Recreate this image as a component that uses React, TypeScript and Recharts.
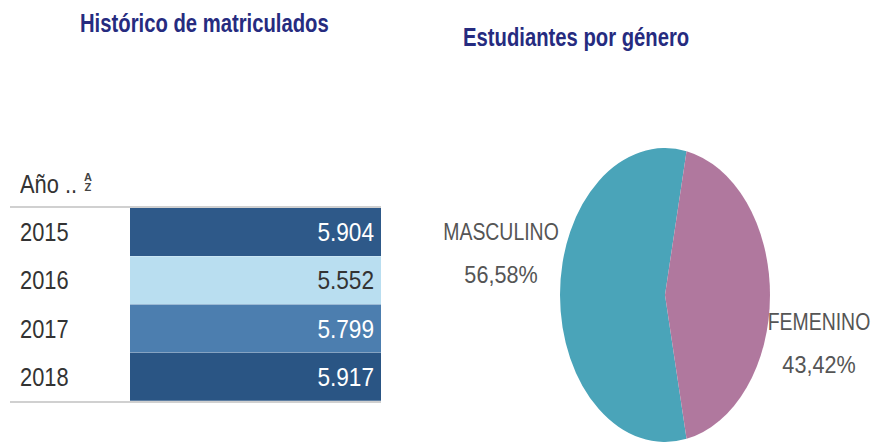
import React from 'react';
import { BarChart, Bar, XAxis, YAxis, Cell, LabelList, PieChart, Pie } from 'recharts';

// tabla "Histórico de matriculados"
const YEARS = ['2015', '2016', '2017', '2018'];
const ENROLLED = [5904, 5552, 5799, 5917];

// torta "Estudiantes por género"
const GENDERS = ['MASCULINO', 'FEMENINO'];
const GENDER_PCT = [56.58, 43.42];
const GENDER_COLORS = ['#4aa4b9', '#b0789e'];

// escala de color min -> medio -> max
const LIGHT = [185, 222, 240];
const MID = [94, 148, 198];
const DARK = [42, 85, 132];
const FONT = '"Liberation Sans", Arial, sans-serif';
const SQUEEZE = 0.84; // el original usa una fuente condensada
const TITLE_COLOR = '#262b7f';
const RAD = Math.PI / 180;
const Y_STRETCH = 1.4; // la torta se ve ovalada

const minV = Math.min(...ENROLLED);
const maxV = Math.max(...ENROLLED);
const shade = (v: number) => (v - minV) / (maxV - minV);
const mix = (a: number[], b: number[], t: number) => a.map((x, i) => Math.round(x + (b[i] - x) * t));
const colorFor = (v: number) => {
  const t = shade(v);
  const c = t < 0.5 ? mix(LIGHT, MID, t * 2) : mix(MID, DARK, (t - 0.5) * 2);
  return `rgb(${c[0]},${c[1]},${c[2]})`;
};
const fmt = (v: number) => `${Math.floor(v / 1000)}.${String(v % 1000).padStart(3, '0')}`;

const tableData = YEARS.map((year, i) => ({ year, value: ENROLLED[i] }));
const pieData = GENDERS.map((name, i) => ({ name, value: GENDER_PCT[i] }));
const pieTotal = GENDER_PCT.reduce((a, b) => a + b, 0);
const pieStart = 180 - (GENDER_PCT[0] / pieTotal) * 180;

// texto comprimido horizontalmente
const Narrow = ({ x, y, anchor = 'start', sx = SQUEEZE, children, ...rest }: any) => (
  <text transform={`translate(${x},${y}) scale(${sx},1)`} textAnchor={anchor} {...rest}>
    {children}
  </text>
);

const YearTick = (props: any) => {
  const { y, payload } = props;
  return (
    <Narrow x={20} y={y + 9} fill="#333" fontFamily={FONT} fontSize={26}>
      {payload.value}
    </Narrow>
  );
};

const ValueLabel = (props: any) => {
  const { x, y, width, height, value } = props;
  const light = shade(value) < 0.3;
  return (
    <Narrow
      x={x + width - 7}
      y={y + height / 2 + 9}
      anchor="end"
      sx={0.87}
      fill={light ? '#333' : '#fff'}
      fontFamily={FONT}
      fontSize={26}
    >
      {fmt(value)}
    </Narrow>
  );
};

// sector elíptico
const OvalSector = (props: any) => {
  const { cx, cy, outerRadius, startAngle, endAngle, fill } = props;
  const rx = outerRadius;
  const ry = outerRadius * Y_STRETCH;
  const p = (a: number) => [cx + rx * Math.cos(a * RAD), cy - ry * Math.sin(a * RAD)];
  const [x1, y1] = p(startAngle);
  const [x2, y2] = p(endAngle);
  const large = Math.abs(endAngle - startAngle) > 180 ? 1 : 0;
  const sweep = startAngle > endAngle ? 1 : 0;
  return (
    <path
      d={`M${cx},${cy}L${x1},${y1}A${rx},${ry},0,${large},${sweep},${x2},${y2}Z`}
      fill={fill}
      stroke="none"
    />
  );
};

const PieLabel = (props: any) => {
  const { cx, cy, midAngle, outerRadius, name, percent } = props;
  const cos = Math.cos(midAngle * RAD);
  const side = cos >= 0 ? 1 : -1;
  const x = cx + cos * (outerRadius + 54) - 5;
  const mid = cy + side * 45 + 3;
  const pct = `${(percent * 100).toFixed(2).replace('.', ',')}%`;
  return (
    <g fontFamily={FONT} fontSize={24} fill="#555">
      <Narrow x={x} y={mid - 13} anchor="middle" sx={0.81}>{name}</Narrow>
      <Narrow x={x} y={mid + 30} anchor="middle" sx={0.9}>{pct}</Narrow>
    </g>
  );
};

const titleStyle: React.CSSProperties = {
  position: 'absolute',
  fontFamily: FONT,
  fontWeight: 'bold',
  fontSize: 25,
  color: TITLE_COLOR,
  whiteSpace: 'nowrap',
  lineHeight: 1,
  transform: `scaleX(0.81)`,
  transformOrigin: 'left top',
};

const App: React.FC = () => {
  return (
    <div
      style={{
        position: 'absolute',
        left: 0,
        top: 0,
        width: 876,
        height: 443,
        overflow: 'hidden',
        background: '#fff',
      }}
    >
      <div style={{ ...titleStyle, left: 80, top: 11 }}>Histórico de matriculados</div>
      <div style={{ ...titleStyle, left: 463, top: 25 }}>Estudiantes por género</div>

      {/* encabezado de la tabla */}
      <div
        style={{
          position: 'absolute',
          left: 20,
          top: 171,
          fontFamily: FONT,
          fontSize: 26,
          color: '#333',
          lineHeight: 1,
          whiteSpace: 'nowrap',
          transform: `scaleX(${SQUEEZE})`,
          transformOrigin: 'left top',
        }}
      >
        Año ..
      </div>
      <div
        style={{
          position: 'absolute',
          left: 84,
          top: 172,
          fontFamily: FONT,
          fontSize: 11,
          fontWeight: 'bold',
          color: '#444',
          lineHeight: '10px',
          textAlign: 'center',
        }}
      >
        A<br />Z
      </div>
      <div style={{ position: 'absolute', left: 10, top: 206, width: 371, height: 2, background: '#d0d0d0' }} />
      <div style={{ position: 'absolute', left: 10, top: 401, width: 371, height: 2, background: '#d0d0d0' }} />

      <div style={{ position: 'absolute', left: 0, top: 208 }}>
        <BarChart
          width={381}
          height={193}
          data={tableData}
          layout="vertical"
          barCategoryGap={0}
          margin={{ top: 0, right: 0, bottom: 0, left: 0 }}
        >
          <XAxis type="number" hide domain={[0, 1]} />
          <YAxis
            type="category"
            dataKey="year"
            width={130}
            axisLine={false}
            tickLine={false}
            tick={<YearTick />}
          />
          <Bar dataKey={() => 1} isAnimationActive={false}>
            {tableData.map((d, i) => (
              <Cell key={`c-${i}`} fill={colorFor(d.value)} />
            ))}
            <LabelList dataKey="value" content={<ValueLabel />} />
          </Bar>
        </BarChart>
      </div>

      <div style={{ position: 'absolute', left: 430, top: 125 }}>
        <PieChart width={446} height={340} margin={{ top: 0, right: 0, bottom: 0, left: 0 }}>
          <Pie
            data={pieData}
            dataKey="value"
            nameKey="name"
            cx={235}
            cy={170}
            outerRadius={105}
            startAngle={pieStart}
            endAngle={pieStart + 360}
            stroke="none"
            labelLine={false}
            label={PieLabel}
            inactiveShape={OvalSector}
            activeShape={OvalSector}
            shape={OvalSector}
            isAnimationActive={false}
          >
            {pieData.map((d, i) => (
              <Cell key={`g-${i}`} fill={GENDER_COLORS[i]} />
            ))}
          </Pie>
        </PieChart>
      </div>
    </div>
  );
};

export default App;
